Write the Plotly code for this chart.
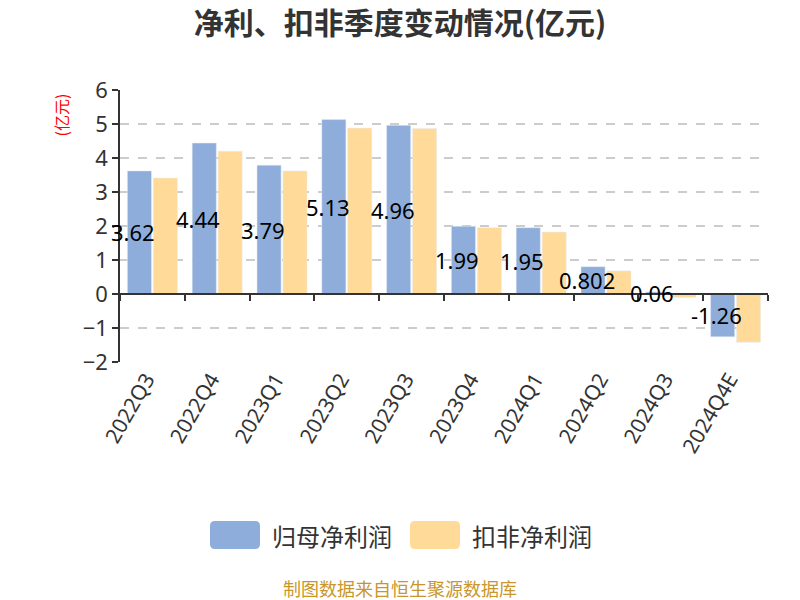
import plotly.graph_objects as go

categories = ["2022Q3", "2022Q4", "2023Q1", "2023Q2", "2023Q3", "2023Q4",
              "2024Q1", "2024Q2", "2024Q3", "2024Q4E"]
net_profit = [3.62, 4.44, 3.79, 5.13, 4.96, 1.99, 1.95, 0.802, 0.06, -1.26]
deducted_profit = [3.41, 4.20, 3.62, 4.88, 4.87, 1.95, 1.82, 0.68, -0.10, -1.42]
net_label = ["3.62", "4.44", "3.79", "5.13", "4.96", "1.99", "1.95", "0.802", "0.06", "-1.26"]
series_names = ["归母净利润", "扣非净利润"]
colors = ["#8EADDB", "#FFDA99"]

FONT = "Noto Sans, Noto Sans CJK SC, sans-serif"
CJK = "Noto Sans CJK SC, sans-serif"

W, H = 800, 600
# plot area in page pixels
PL, PR, PT, PB = 120, 768, 90, 362
L, R, T, B = PL, W - PR, PT, H - PB
pw = W - L - R
ph = H - T - B
n = len(categories)


def px(xp):
    return (xp - PL) / pw


def py(yp):
    return 1 - (yp - PT) / ph


fig = go.Figure()
fig.add_trace(go.Bar(x=categories, y=net_profit, name=series_names[0],
                     marker=dict(color=colors[0]), showlegend=False))
fig.add_trace(go.Bar(x=categories, y=deducted_profit, name=series_names[1],
                     marker=dict(color=colors[1]), showlegend=False))

# secondary axis drawn at y=0 with boundary ticks
fig.add_trace(go.Scatter(x=[-0.5, n - 0.5], y=[0, 0], xaxis="x2", mode="lines",
                         line=dict(color="rgba(0,0,0,0)"), hoverinfo="skip",
                         showlegend=False))

for c, v, t in zip(categories, net_profit, net_label):
    fig.add_annotation(x=c, y=v / 2, text=t, showarrow=False, xshift=-19,
                       font=dict(size=22, color="#000", family=FONT))

fig.update_layout(
    width=W, height=H,
    margin=dict(l=L, r=R, t=T, b=B, autoexpand=False),
    paper_bgcolor="white", plot_bgcolor="white",
    barmode="group", bargap=0.2, bargroupgap=0.07,
    title=dict(text="<b>净利、扣非季度变动情况(亿元)</b>", x=0.5, xanchor="center",
               y=1 - 23 / H, yanchor="middle",
               font=dict(size=30, color="#333", family=CJK)),
    xaxis=dict(type="category", categoryarray=categories, range=[-0.5, n - 0.5],
               autorange=False, tickangle=-60,
               tickfont=dict(size=21, color="#333", family=FONT),
               ticklabelshift=-6,
               showline=False, ticks="", showgrid=False, zeroline=False,
               automargin=False),
    xaxis2=dict(overlaying="x", anchor="free", position=0.25, range=[-0.5, n - 0.5],
                autorange=False,
                tickvals=[i - 0.5 for i in range(n + 1)], ticks="outside", ticklen=6,
                tickcolor="#333", tickwidth=1.5, showticklabels=False,
                showline=True, linecolor="#333", linewidth=1.5, showgrid=False,
                zeroline=False),
    yaxis=dict(range=[-2, 6], autorange=False, dtick=1,
               tickfont=dict(size=22, color="#333", family=FONT),
               showline=True, linecolor="#333", linewidth=1.5, ticks="outside",
               ticklen=6, tickcolor="#333", tickwidth=1.5,
               showgrid=True, gridcolor="#cccccc", griddash="dash", gridwidth=1.5,
               zeroline=False, automargin=False),
    font=dict(family=FONT),
)

# y-axis unit label
fig.add_annotation(xref="paper", yref="paper", x=px(60), y=py(92),
                   text="(亿元)", textangle=-90, showarrow=False, xanchor="center",
                   yanchor="top", font=dict(size=16, color="red", family=CJK))


def rounded_rect(x0, y0, x1, y1, r):
    def P(x, y):
        return f"{px(x):.5f},{py(y):.5f}"
    return (f"M {P(x0 + r, y0)} L {P(x1 - r, y0)} Q {P(x1, y0)} {P(x1, y0 + r)} "
            f"L {P(x1, y1 - r)} Q {P(x1, y1)} {P(x1 - r, y1)} "
            f"L {P(x0 + r, y1)} Q {P(x0, y1)} {P(x0, y1 - r)} "
            f"L {P(x0, y0 + r)} Q {P(x0, y0)} {P(x0 + r, y0)} Z")


# custom legend
leg_y = 535
items = [(210, series_names[0], colors[0]), (410, series_names[1], colors[1])]
for x0, name, col in items:
    fig.add_shape(type="path", xref="paper", yref="paper",
                  path=rounded_rect(x0, leg_y - 14, x0 + 50, leg_y + 14, 5),
                  fillcolor=col, line=dict(width=0), layer="above")
    fig.add_annotation(xref="paper", yref="paper", x=px(x0 + 60),
                       y=py(leg_y), text=name, showarrow=False,
                       xanchor="left", yanchor="middle",
                       font=dict(size=24, color="#333", family=CJK))

fig.add_annotation(xref="paper", yref="paper", x=px(400), y=py(588),
                   text="制图数据来自恒生聚源数据库", showarrow=False,
                   xanchor="center", yanchor="middle",
                   font=dict(size=18, color="#C9962B", family=CJK))

fig.write_html("out.html", config={"displayModeBar": False},
               post_script="document.body.style.margin='0';document.body.style.overflow='hidden';")
